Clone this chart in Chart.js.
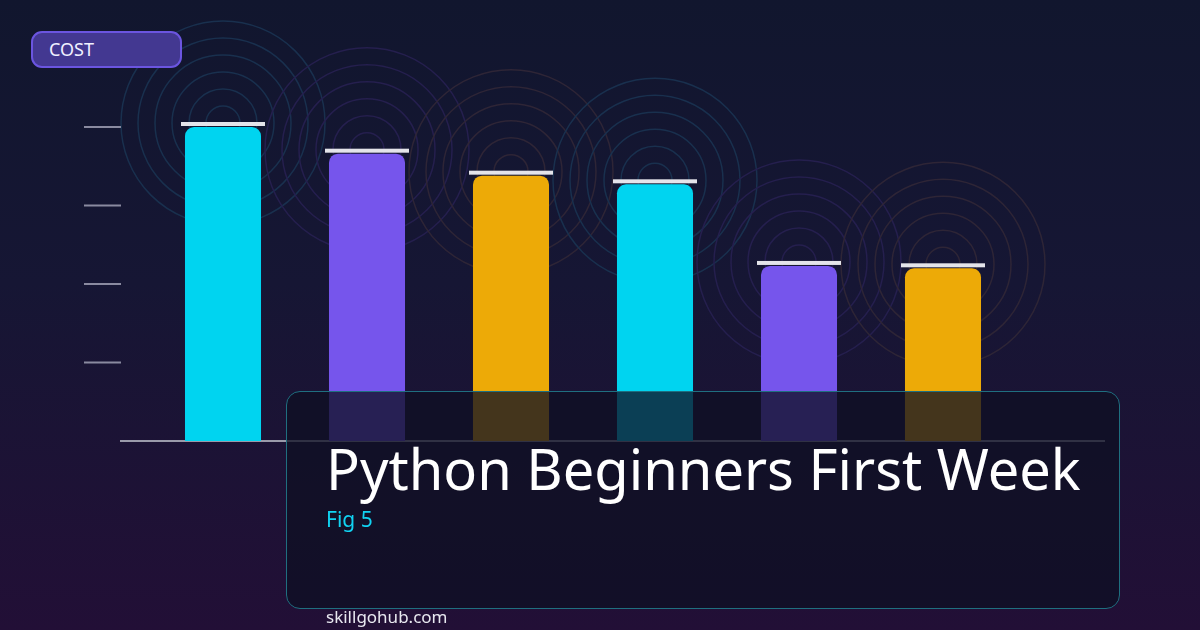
<!DOCTYPE html>
<html>
<head>
<meta charset="utf-8">
<script src="https://cdn.jsdelivr.net/npm/chart.js@4.4.0/dist/chart.umd.min.js"></script>
<style>
  html, body { margin: 0; padding: 0; }
  body { width: 1200px; height: 630px; overflow: hidden; font-family: "Noto Sans", sans-serif;
         background: linear-gradient(180deg, #11162e 0%, #161634 45%, #220f36 100%); position: relative; }
  #wrap { position: absolute; left: 0; top: 0; width: 1200px; height: 630px; }
  .badge { position: absolute; left: 31px; top: 31px; height: 33px; border: 2px solid #6b55e0;
           border-radius: 11px; background: #433891; color: #f0f0ff; font-size: 18px; line-height: 33px;
           padding-left: 16px; width: 131px; }
  .panel { position: absolute; left: 286px; top: 391px; width: 832px; height: 216px; border: 1.5px solid #1f6f80;
           border-radius: 14px; background: rgba(14, 16, 36, 0.76); }
  .title { position: absolute; left: 326px; top: 430px; color: #fff; font-size: 56px; white-space: nowrap; }
  .fig { position: absolute; left: 326px; top: 505px; color: #11d3f2; font-size: 21px; }
  .site { position: absolute; left: 326px; top: 605px; color: #e8e8f0; font-size: 17px; }
</style>
</head>
<body>
<div id="wrap"><canvas id="chart" width="1200" height="630"></canvas></div>
<div class="badge">COST</div>
<div class="panel"></div>
<div class="title">Python Beginners First Week</div>
<div class="fig">Fig 5</div>
<div class="site">skillgohub.com</div>
<script>
const categories = ["A", "B", "C", "D", "E", "F"];
const costValues = [4.0, 3.66, 3.38, 3.27, 2.23, 2.2];
const tickValues = [0, 1, 2, 3, 4];
const barColors = ["#00d4f0", "#7655ec", "#edaa07", "#00d4f0", "#7655ec", "#edaa07"];
const ringColors = ["#19304e", "#251f4e", "#2e2536", "#19304e", "#251f4e", "#2e2536"];

// rings behind bars, tick marks and baseline
const decor = {
  id: "decor",
  beforeDatasetsDraw(chart) {
    const ctx = chart.ctx;
    const meta = chart.getDatasetMeta(0);
    const y = chart.scales.y;
    ctx.save();
    meta.data.forEach((bar, i) => {
      ctx.strokeStyle = ringColors[i];
      ctx.lineWidth = 1.5;
      for (let r = 17; r <= 102; r += 17) {
        ctx.beginPath();
        ctx.arc(bar.x, bar.y - 4, r, 0, Math.PI * 2);
        ctx.stroke();
      }
    });
    ctx.strokeStyle = "#8a8aa0";
    ctx.lineWidth = 2;
    tickValues.slice(1).forEach(v => {
      const py = y.getPixelForValue(v);
      ctx.beginPath(); ctx.moveTo(84, py); ctx.lineTo(121, py); ctx.stroke();
    });
    ctx.strokeStyle = "#9a9aaa";
    ctx.beginPath(); ctx.moveTo(120, y.getPixelForValue(0)); ctx.lineTo(1105, y.getPixelForValue(0)); ctx.stroke();
    ctx.restore();
  },
  afterDatasetsDraw(chart) {
    const ctx = chart.ctx;
    ctx.save();
    ctx.fillStyle = "#e4e4ea";
    chart.getDatasetMeta(0).data.forEach(bar => {
      ctx.fillRect(bar.x - 42, bar.y - 5, 84, 4);
    });
    ctx.restore();
  }
};

new Chart(document.getElementById("chart").getContext("2d"), {
  type: "bar",
  data: {
    labels: categories,
    datasets: [{
      label: "Cost",
      data: costValues,
      backgroundColor: barColors,
      borderRadius: 9,
      borderSkipped: "bottom",
      barPercentage: 0.528,
      categoryPercentage: 1
    }]
  },
  options: {
    responsive: false,
    animation: false,
    layout: { padding: { left: 151, right: 185, top: 127, bottom: 189 } },
    plugins: { legend: { display: false }, tooltip: { enabled: false } },
    scales: {
      x: { display: false },
      y: { display: false, min: 0, max: 4 }
    }
  },
  plugins: [decor]
});
</script>
</body>
</html>
